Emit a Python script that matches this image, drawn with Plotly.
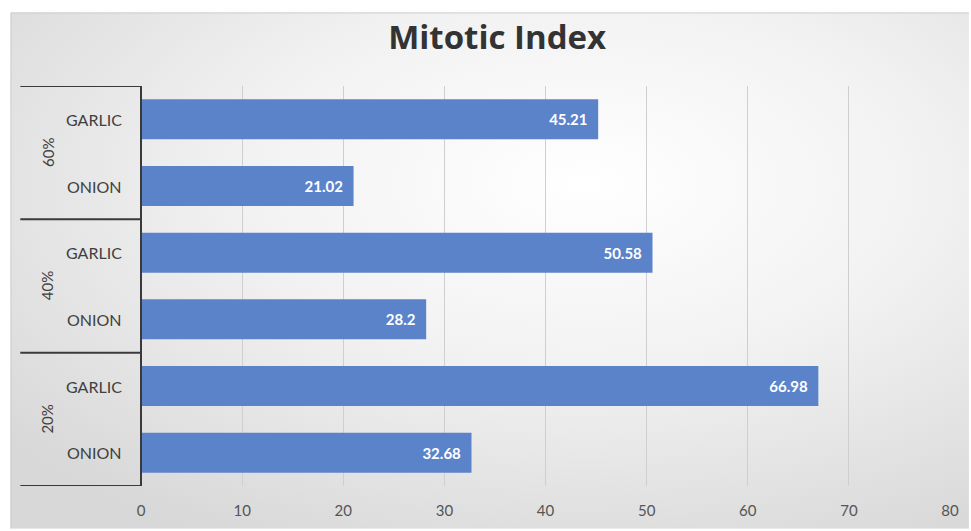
import plotly.graph_objects as go
import urllib.parse

groups = ["20%", "20%", "40%", "40%", "60%", "60%"]
plants = ["ONION", "GARLIC", "ONION", "GARLIC", "ONION", "GARLIC"]
values = [32.68, 66.98, 28.2, 50.58, 21.02, 45.21]
x_ticks = [0, 10, 20, 30, 40, 50, 60, 70, 80]
title_text = "Mitotic Index"

cats = [f"{g} {p}" for g, p in zip(groups, plants)]

W, H = 971, 531
ML, MR, MT, MB = 141, 19, 86, 43
PW, PH = W - ML - MR, H - MT - MB

def px_x(px):
    return (px - ML) / PW

def px_y(py):
    return (H - MB - py) / PH

FONT = "Lato, Open Sans, sans-serif"

fig = go.Figure()
fig.add_trace(go.Bar(
    y=cats, x=values, orientation="h",
    marker=dict(color="#5B83CA", line=dict(width=0)),
    text=[str(v) for v in values],
    textposition="inside", insidetextanchor="end",
    textfont=dict(color="white", size=15, family=FONT),
    texttemplate="<b>%{text}</b>  ",
    cliponaxis=False,
))

svg = (
    '<svg xmlns="http://www.w3.org/2000/svg" width="961" height="519" viewBox="0 0 961 519">'
    '<defs><radialGradient id="g" cx="0.6" cy="0.33" r="0.78">'
    '<stop offset="0" stop-color="#ffffff"/>'
    '<stop offset="0.45" stop-color="#f2f2f2"/>'
    '<stop offset="1" stop-color="#d8d8d8"/>'
    '</radialGradient></defs>'
    '<rect x="0" y="0" width="961" height="519" fill="url(#g)"/>'
    '<path d="M0.5 519 L0.5 0.5 L961 0.5" fill="none" stroke="#c8c8c8" stroke-width="1"/>'
    '</svg>'
)
src = "data:image/svg+xml;charset=utf-8," + urllib.parse.quote(svg)

shapes = []
line_col = "#3a3a3a"
for b in [-0.5, 1.5, 3.5, 5.5]:
    shapes.append(dict(type="line", xref="paper", yref="y",
                       x0=px_x(20), x1=0, y0=b, y1=b,
                       line=dict(color=line_col, width=2)))
shapes.append(dict(type="line", xref="paper", yref="paper",
                   x0=0, x1=0, y0=0, y1=1, line=dict(color=line_col, width=2)))

annotations = []
for i, p in enumerate(plants):
    annotations.append(dict(x=px_x(124), y=cats[i], xref="paper", yref="y",
                            text=p, showarrow=False, xanchor="right",
                            font=dict(size=16, color="#404040", family=FONT)))
for k, g in enumerate(["20%", "40%", "60%"]):
    annotations.append(dict(x=px_x(36), y=2 * k + 0.5, xref="paper", yref="y",
                            text=g, showarrow=False, textangle=-90,
                            font=dict(size=15, color="#404040", family=FONT)))

fig.update_layout(
    width=W, height=H,
    margin=dict(l=ML, r=MR, t=MT, b=MB),
    paper_bgcolor="white",
    plot_bgcolor="rgba(0,0,0,0)",
    title=dict(text="<b>" + title_text + "</b>", x=0.512, xanchor="center",
               y=1 - 37 / H, yanchor="middle",
               font=dict(size=33, color="#333333", family="Open Sans, sans-serif")),
    bargap=0.4,
    showlegend=False,
    xaxis=dict(range=[0, 80], tickvals=x_ticks, showgrid=True,
               gridcolor="#cfcfcf", gridwidth=1, zeroline=False,
               ticks="", showline=False, ticklabelstandoff=14,
               tickfont=dict(size=15, color="#555555", family=FONT)),
    yaxis=dict(type="category", categoryorder="array", categoryarray=cats,
               range=[-0.5, 5.5], showticklabels=False, showgrid=False,
               zeroline=False, showline=False, ticks=""),
    images=[dict(source=src, xref="paper", yref="paper",
                 x=px_x(10), y=px_y(12), sizex=961 / PW, sizey=519 / PH,
                 xanchor="left", yanchor="top", sizing="stretch",
                 layer="below")],
    shapes=shapes,
    annotations=annotations,
)

fig.write_html("out.html")
